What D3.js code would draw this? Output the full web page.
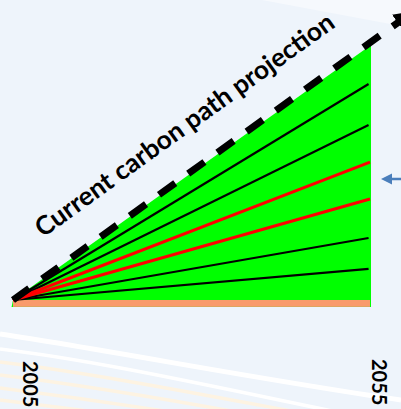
<!DOCTYPE html>
<html>
<head>
<meta charset="utf-8">
<script src="https://cdn.jsdelivr.net/npm/d3@7"></script>
<style>
  body { margin: 0; background: #eef4fb; }
  svg { display: block; }
</style>
</head>
<body>
<script>
// donnees
var years = [2005, 2055];
var yearLabels = ["2005", "2055"];
// valeurs en 2055 des lignes de separation (0 = point de depart 2005)
var blackEnds = [84.7, 68.6, 24.3, 12.2];
var redEnds = [54.1, 39.6];
var topEnd = 100;          // haut du triangle vert
var baseBand = -2.7;       // bande saumon sous le depart
var currentPath = [{year: 2005, v: 0}, {year: 2060, v: 111}];
var titre = "Current carbon path projection";

var w = 401, h = 409;

var x = d3.scaleLinear().domain([2005, 2055]).range([13, 370]);
var y = d3.scaleLinear().domain([0, 100]).range([300, 45]);

var svg = d3.select("body").append("svg")
  .attr("width", w)
  .attr("height", h);

// fond
svg.append("rect").attr("width", w).attr("height", h).style("fill", "#eef4fb");
svg.append("path")
  .attr("d", "M262,0 L401,0 L401,26 Z")
  .style("fill", "#f6f9fd");

// traits decoratifs du bas
var swoosh = [
  {d: "M0,334 C120,352 250,378 401,400", c: "#ffffff", sw: 5},
  {d: "M0,349 C110,362 250,395 401,425", c: "#ffffff", sw: 3.5},
  {d: "M0,362 C100,374 230,400 340,420", c: "#fdf3e2", sw: 3.5},
  {d: "M0,375 C90,386 200,405 280,420", c: "#fdf3e2", sw: 3.5},
  {d: "M0,388 C80,398 160,410 220,420", c: "#fdf3e2", sw: 3.5},
  {d: "M0,400 C60,408 120,415 160,420", c: "#fdf3e2", sw: 3.5}
];
svg.selectAll(".swoosh")
  .data(swoosh)
  .enter()
  .append("path")
  .attr("d", function(d) { return d.d; })
  .style("fill", "none")
  .style("stroke", function(d) { return d.c; })
  .style("stroke-width", function(d) { return d.sw; });

// triangle vert
svg.append("path")
  .attr("d", d3.line()([
    [x(2004.8), y(baseBand)],
    [x(2005), y(0)],
    [x(2055) + 1, y(topEnd)],
    [x(2055) + 1, y(baseBand)]
  ]))
  .style("fill", "#00ff00");

// bande saumon
svg.append("rect")
  .attr("x", x(2005))
  .attr("y", y(0))
  .attr("width", x(2055) - x(2005))
  .attr("height", y(baseBand) - y(0))
  .style("fill", "#f99a6b");

var line = d3.line()
  .x(function(d) { return x(d.year); })
  .y(function(d) { return y(d.v); });

// lignes noires
svg.selectAll(".noire")
  .data(blackEnds)
  .enter()
  .append("path")
  .attr("d", function(d) { return line([{year: 2005, v: 0}, {year: 2054.8, v: d}]); })
  .style("stroke", "#000")
  .style("stroke-width", 2.2)
  .style("fill", "none");

// lignes rouges
svg.selectAll(".rouge")
  .data(redEnds)
  .enter()
  .append("path")
  .attr("d", function(d) { return line([{year: 2005, v: 0}, {year: 2055, v: d}]); })
  .style("stroke", "#ff0000")
  .style("stroke-width", 3)
  .style("fill", "none");

// fleche pointillee
svg.append("defs").append("marker")
  .attr("id", "tete")
  .attr("viewBox", "0 0 10 10")
  .attr("refX", 5)
  .attr("refY", 5)
  .attr("markerWidth", 2.8)
  .attr("markerHeight", 2.8)
  .attr("orient", "auto")
  .append("path")
  .attr("d", "M0,0 L10,5 L0,10 Z")
  .style("fill", "#000");

svg.append("path")
  .attr("d", line(currentPath))
  .style("stroke", "#000")
  .style("stroke-width", 7)
  .style("stroke-dasharray", "20,16")
  .style("fill", "none")
  .attr("marker-end", "url(#tete)");

// titre le long de la fleche
var angle = -35.8;
svg.append("text")
  .text(titre)
  .attr("transform", "translate(43,238) rotate(" + angle + ")")
  .attr("textLength", 362)
  .attr("lengthAdjust", "spacingAndGlyphs")
  .style("font-family", "Lato, sans-serif")
  .style("font-weight", "bold")
  .style("font-size", "26px")
  .style("fill", "#000");

// petite fleche bleue
svg.append("line")
  .attr("x1", 390).attr("y1", 179)
  .attr("x2", 402).attr("y2", 179)
  .style("stroke", "#4a7ebb")
  .style("stroke-width", 2.5);
svg.append("path")
  .attr("d", "M381,179 L392,173.5 L392,184.5 Z")
  .style("fill", "#4a7ebb");

// annees
var dxLab = [10, 2];
svg.selectAll(".annee")
  .data(years)
  .enter()
  .append("text")
  .text(function(d, i) { return yearLabels[i]; })
  .attr("transform", function(d, i) {
    return "translate(" + (x(d) + dxLab[i]) + "," + (i == 0 ? 361 : 359) + ") rotate(90)";
  })
  .style("font-family", "Lato, sans-serif")
  .style("font-weight", "bold")
  .style("font-size", "20px")
  .style("fill", "#000");
</script>
</body>
</html>
